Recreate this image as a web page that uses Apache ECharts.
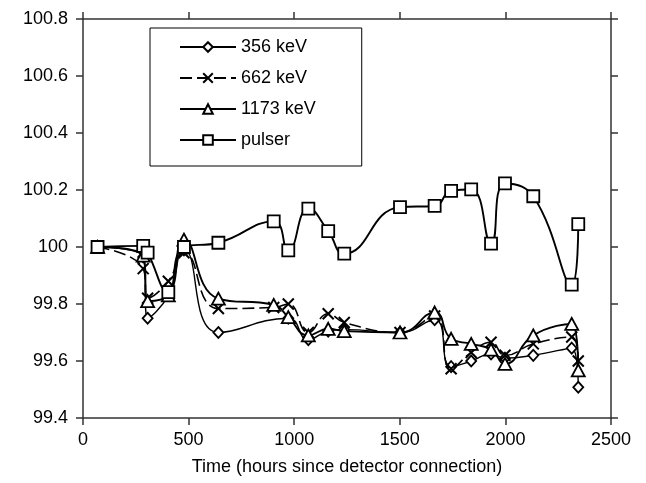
<!DOCTYPE html>
<html>
<head>
<meta charset="utf-8">
<script src="https://cdn.jsdelivr.net/npm/echarts@6/dist/echarts.min.js"></script>
<style>
  html, body { margin: 0; padding: 0; background: #fff; }
  #chart { width: 646px; height: 483px; }
</style>
</head>
<body>
<div id="chart"></div>
<script>
// Measurement times (hours since detector connection)
const hours = [69, 285, 306, 404, 478, 641, 903, 972, 1067, 1161, 1237, 1501, 1665, 1743, 1838, 1932, 1998, 2132, 2314, 2345];

// Relative peak position (%) per line; null = no reading at that time
const kev356  = [100.0, 99.965, 99.75, 99.83, 99.99, 99.70, null, 99.75, 99.675, 99.705, 99.71, 99.70, 99.745, 99.58, 99.60, 99.625, 99.61, 99.62, 99.645, 99.508];
const kev662  = [100.0, 99.924, 99.82, 99.88, 99.98, 99.784, 99.788, 99.80, 99.70, 99.766, 99.735, 99.70, 99.758, 99.573, 99.63, 99.666, 99.62, 99.66, 99.684, 99.60];
const kev1173 = [100.0, 99.97, 99.81, 99.83, 100.026, 99.819, 99.797, 99.754, 99.69, 99.713, 99.705, 99.70, 99.77, 99.678, 99.66, 99.64, 99.59, 99.69, 99.73, 99.567];
const pulser  = [100.0, 100.004, 99.98, 99.842, 100.0, 100.015, 100.09, 99.988, 100.135, 100.056, 99.977, 100.14, 100.144, 100.197, 100.202, 100.012, 100.223, 100.178, 99.868, 100.08];

const seriesNames = ['356 keV', '662 keV', '1173 keV', 'pulser'];

const xTicks = { min: 0, max: 2500, interval: 500 };
const yTicks = { min: 99.4, max: 100.8, interval: 0.2 };

function pairs(values) {
  const out = [];
  values.forEach((v, i) => { if (v !== null) out.push([hours[i], v]); });
  return out;
}

const FONT = 'Liberation Sans, Arial, sans-serif';
const AXIS_COLOR = '#333';
const crossPath = 'path://M0,0 L10,10 M10,0 L0,10';

const markerStyle = { color: '#fff', borderColor: '#000', borderWidth: 1.8 };

const chart = echarts.init(document.getElementById('chart'), null, { renderer: 'canvas' });

const axisCommon = {
  axisLine: { show: true, onZero: false, lineStyle: { color: AXIS_COLOR, width: 1.5 } },
  axisTick: { show: true, inside: false, length: 7, lineStyle: { color: AXIS_COLOR, width: 1.5 } },
  splitLine: { show: false }
};

chart.setOption({
  animation: false,
  backgroundColor: '#fff',
  textStyle: { fontFamily: FONT, color: '#000' },
  grid: { left: 83, right: 35, top: 19, bottom: 65, containLabel: false },
  legend: {
    orient: 'vertical',
    left: 150,
    top: 28,
    padding: [10, 46, 17, 29],
    itemWidth: 56,
    itemHeight: 12,
    itemGap: 13,
    borderColor: '#000',
    borderWidth: 1,
    backgroundColor: '#fff',
    textStyle: { fontFamily: FONT, fontSize: 18, color: '#000' },
    data: seriesNames
  },
  xAxis: [
    Object.assign({
      type: 'value', position: 'bottom',
      min: xTicks.min, max: xTicks.max, interval: xTicks.interval,
      axisLabel: { fontFamily: FONT, fontSize: 18, color: '#000', margin: 13, formatter: v => String(v) },
      name: 'Time (hours since detector connection)',
      nameLocation: 'middle',
      nameGap: 40,
      nameTextStyle: { fontFamily: FONT, fontSize: 18, color: '#000' }
    }, axisCommon),
    Object.assign({
      type: 'value', position: 'top',
      min: xTicks.min, max: xTicks.max, interval: xTicks.interval,
      axisLabel: { show: false }
    }, axisCommon)
  ],
  yAxis: [
    Object.assign({
      type: 'value', position: 'left',
      min: yTicks.min, max: yTicks.max, interval: yTicks.interval,
      axisLabel: { fontFamily: FONT, fontSize: 18, color: '#000', margin: 15 }
    }, axisCommon),
    Object.assign({
      type: 'value', position: 'right',
      min: yTicks.min, max: yTicks.max, interval: yTicks.interval,
      axisLabel: { show: false }
    }, axisCommon)
  ],
  series: [
    {
      name: seriesNames[0], type: 'line', smooth: 0.5, connectNulls: true,
      data: pairs(kev356),
      symbol: 'diamond', symbolSize: [10, 11],
      itemStyle: markerStyle,
      lineStyle: { color: '#000', width: 1.4 },
      z: 2
    },
    {
      name: seriesNames[1], type: 'line', smooth: 0.5,
      data: pairs(kev662),
      symbol: crossPath, symbolSize: 11,
      itemStyle: { color: '#000', borderColor: '#000', borderWidth: 2 },
      lineStyle: { color: '#000', width: 1.6, type: [12, 5] },
      z: 3
    },
    {
      name: seriesNames[2], type: 'line', smooth: 0.5,
      data: pairs(kev1173),
      symbol: 'triangle', symbolSize: [13, 12],
      itemStyle: markerStyle,
      lineStyle: { color: '#000', width: 1.9 },
      z: 4
    },
    {
      name: seriesNames[3], type: 'line', smooth: 0.5,
      data: pairs(pulser),
      symbol: 'rect', symbolSize: 12,
      itemStyle: markerStyle,
      lineStyle: { color: '#000', width: 1.9 },
      z: 5
    }
  ]
});
</script>
</body>
</html>
